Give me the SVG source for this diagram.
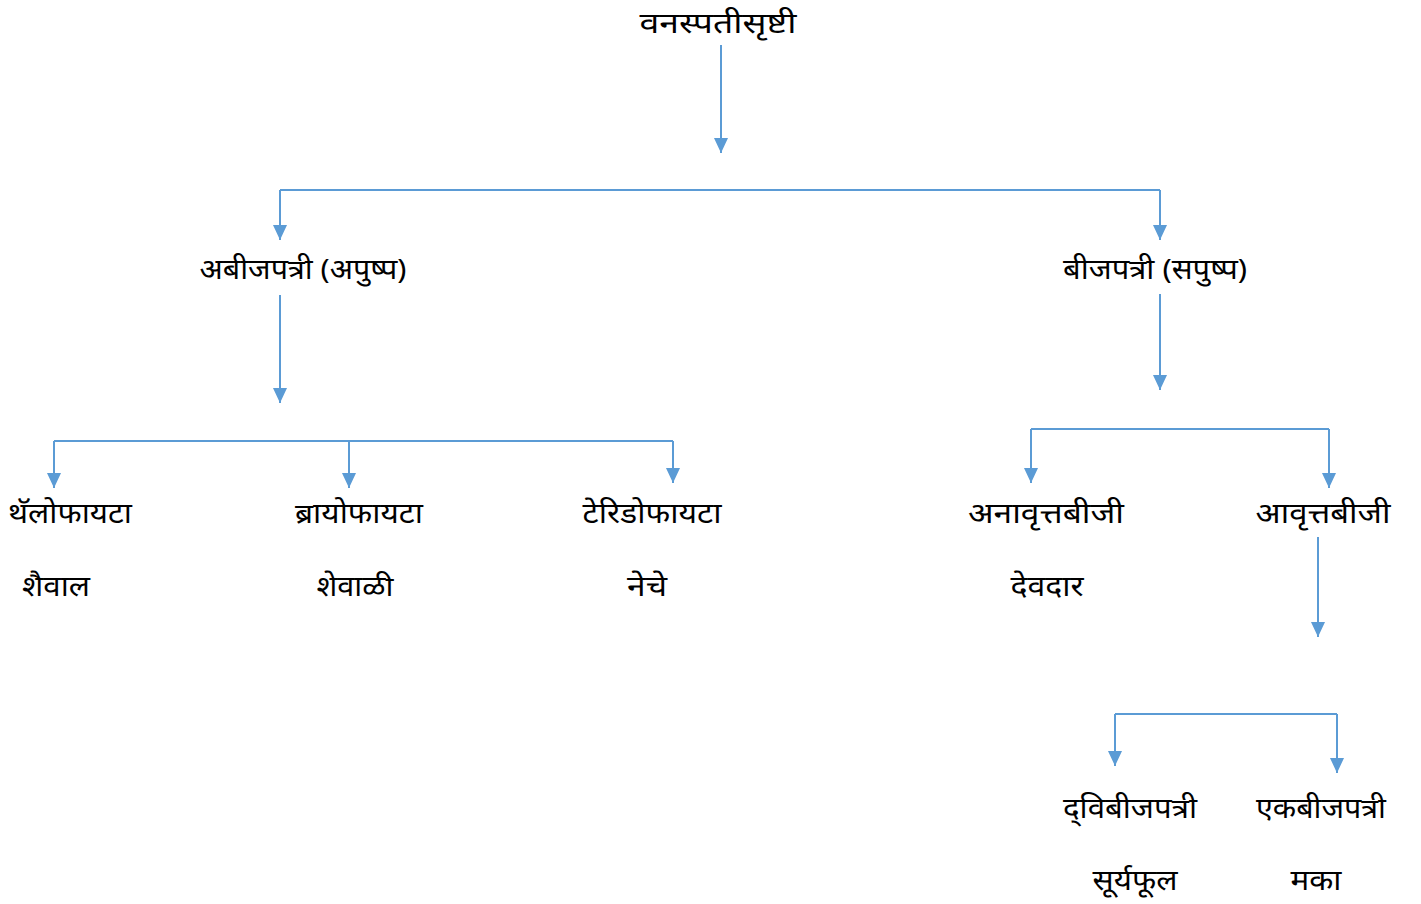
<svg xmlns="http://www.w3.org/2000/svg" width="1421" height="904" viewBox="0 0 1421 904">
<defs>
<style>
.t{font-family:"Noto Sans","Noto Sans Devanagari","Lohit Devanagari","FreeSans",sans-serif;font-size:28px;fill:#000;text-anchor:middle}
.c{stroke:#5B9BD5;stroke-width:2;fill:none}
.a{stroke:#5B9BD5;stroke-width:2;fill:none;marker-end:url(#ah)}
</style>
<marker id="ah" markerUnits="userSpaceOnUse" markerWidth="16" markerHeight="16" viewBox="0 0 16 16" refX="15" refY="8" orient="auto">
<path d="M0,1 L15,8 L0,15 Z" fill="#5B9BD5"/>
</marker>
</defs>
<rect width="1421" height="904" fill="#fff"/>
<g id="connectors">
<path class="a" d="M721,45 V153"/>
<path class="c" d="M280,190 H1160"/>
<path class="a" d="M280,190 V240"/>
<path class="a" d="M1160,190 V240"/>
<path class="a" d="M280,295 V403"/>
<path class="a" d="M1160,294 V390"/>
<path class="c" d="M54,441 H673"/>
<path class="a" d="M54,441 V488"/>
<path class="a" d="M349,441 V488"/>
<path class="a" d="M673,441 V483"/>
<path class="c" d="M1031,429 H1329"/>
<path class="a" d="M1031,429 V483"/>
<path class="a" d="M1329,429 V488"/>
<path class="a" d="M1318,537 V637"/>
<path class="c" d="M1115,714 H1337"/>
<path class="a" d="M1115,714 V766"/>
<path class="a" d="M1337,714 V773"/>
</g>
<g id="n-root"><text class="t" x="718" y="33" textLength="157" lengthAdjust="spacingAndGlyphs">वनस्पतीसृष्टी</text></g>
<g id="n-abij"><text class="t" x="303" y="279" textLength="207" lengthAdjust="spacingAndGlyphs">अबीजपत्री (अपुष्प)</text></g>
<g id="n-bij"><text class="t" x="1155" y="279" textLength="184" lengthAdjust="spacingAndGlyphs">बीजपत्री (सपुष्प)</text></g>
<g id="n-thallo"><text class="t" x="70" y="523" textLength="124" lengthAdjust="spacingAndGlyphs">थॅलोफायटा</text><text class="t" x="56" y="596" textLength="68" lengthAdjust="spacingAndGlyphs">शैवाल</text></g>
<g id="n-bryo"><text class="t" x="359" y="523" textLength="128" lengthAdjust="spacingAndGlyphs">ब्रायोफायटा</text><text class="t" x="355" y="596" textLength="77" lengthAdjust="spacingAndGlyphs">शेवाळी</text></g>
<g id="n-pteri"><text class="t" x="652" y="523" textLength="139" lengthAdjust="spacingAndGlyphs">टेरिडोफायटा</text><text class="t" x="647" y="596" textLength="40" lengthAdjust="spacingAndGlyphs">नेचे</text></g>
<g id="n-anav"><text class="t" x="1046" y="523" textLength="156" lengthAdjust="spacingAndGlyphs">अनावृत्तबीजी</text><text class="t" x="1047" y="596" textLength="73" lengthAdjust="spacingAndGlyphs">देवदार</text></g>
<g id="n-av"><text class="t" x="1323" y="523" textLength="135" lengthAdjust="spacingAndGlyphs">आवृत्तबीजी</text></g>
<g id="n-dvi"><text class="t" x="1130" y="818" textLength="134" lengthAdjust="spacingAndGlyphs">द्‌विबीजपत्री</text><text class="t" x="1135" y="890" textLength="85" lengthAdjust="spacingAndGlyphs">सूर्यफूल</text></g>
<g id="n-ek"><text class="t" x="1321" y="818" textLength="130" lengthAdjust="spacingAndGlyphs">एकबीजपत्री</text><text class="t" x="1316" y="890" textLength="51" lengthAdjust="spacingAndGlyphs">मका</text></g>
</svg>
